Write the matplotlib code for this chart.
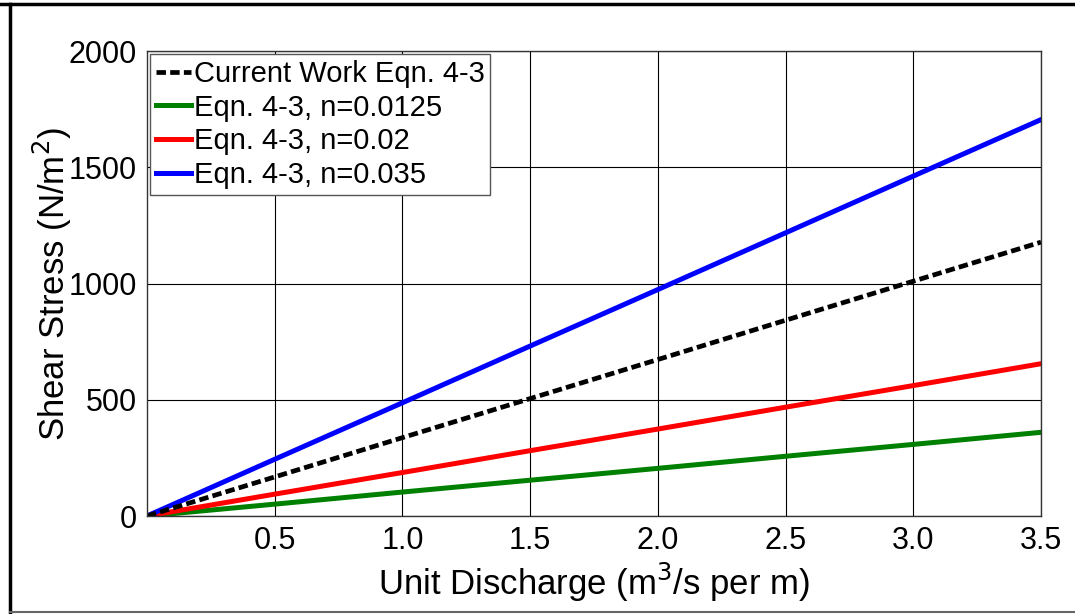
import numpy as np
import matplotlib
matplotlib.use("Agg")
import matplotlib.pyplot as plt
from matplotlib.lines import Line2D

plt.rcParams["font.family"] = ["Liberation Sans", "DejaVu Sans"]

# values
q = [0.0, 0.5, 1.0, 1.5, 2.0, 2.5, 3.0, 3.5]
tau_current = [0, 168, 337, 505, 673, 842, 1010, 1178]
tau_n0125 = [0, 51, 103, 154, 205, 257, 308, 360]
tau_n02 = [0, 94, 187, 281, 374, 468, 561, 655]
tau_n035 = [0, 244, 487, 731, 974, 1218, 1462, 1705]

x_ticks = [0.5, 1.0, 1.5, 2.0, 2.5, 3.0, 3.5]
x_labels = ["0.5", "1.0", "1.5", "2.0", "2.5", "3.0", "3.5"]
y_ticks = [0, 500, 1000, 1500, 2000]

fig = plt.figure(figsize=(10.75, 6.14), dpi=100)
ax = fig.add_axes([0.1367, 0.1596, 0.8317, 0.7573])

ax.plot(q, tau_n0125, color="#008000", lw=3.6, label="Eqn. 4-3, n=0.0125")
ax.plot(q, tau_n02, color="#ff0000", lw=3.6, label="Eqn. 4-3, n=0.02")
ax.plot(q, tau_n035, color="#0000ff", lw=3.6, label="Eqn. 4-3, n=0.035")
ax.plot(q, tau_current, color="black", lw=3.4, ls=(0, (2.0, 0.9)),
        label="Current Work Eqn. 4-3")

ax.set_xlim(0, 3.5)
ax.set_ylim(0, 2000)
ax.set_xticks(x_ticks)
ax.set_xticklabels(x_labels)
ax.set_yticks(y_ticks)
ax.tick_params(labelsize=22, length=0, pad=7)
ax.grid(True, color="black", lw=0.8)
ax.set_axisbelow(True)
for s in ax.spines.values():
    s.set_color("#333333")
    s.set_linewidth(1)

ax.set_xlabel("Unit Discharge (m$^3$/s per m)", fontsize=25, labelpad=4)
ax.set_ylabel("Shear Stress (N/m$^2$)", fontsize=25, labelpad=-4)

h, l = ax.get_legend_handles_labels()
order = [3, 0, 1, 2]
leg = ax.legend([h[i] for i in order], [l[i] for i in order], loc="upper left",
                fontsize=21, handlelength=1.2, handletextpad=0.1,
                borderaxespad=0.1, borderpad=0.2, labelspacing=0.2,
                fancybox=False, framealpha=1)
leg.get_frame().set_edgecolor("#555555")
leg.get_frame().set_linewidth(1)

# figure border
fig.add_artist(Line2D([0.0, 1.0], [0.993, 0.993], color="black", lw=2.5))
fig.add_artist(Line2D([0.009, 0.009], [0.003, 0.993], color="black", lw=2.5))
fig.add_artist(Line2D([0.009, 1.0], [0.003, 0.003], color="#666666", lw=1.5))

fig.savefig("out.png", dpi=100)
